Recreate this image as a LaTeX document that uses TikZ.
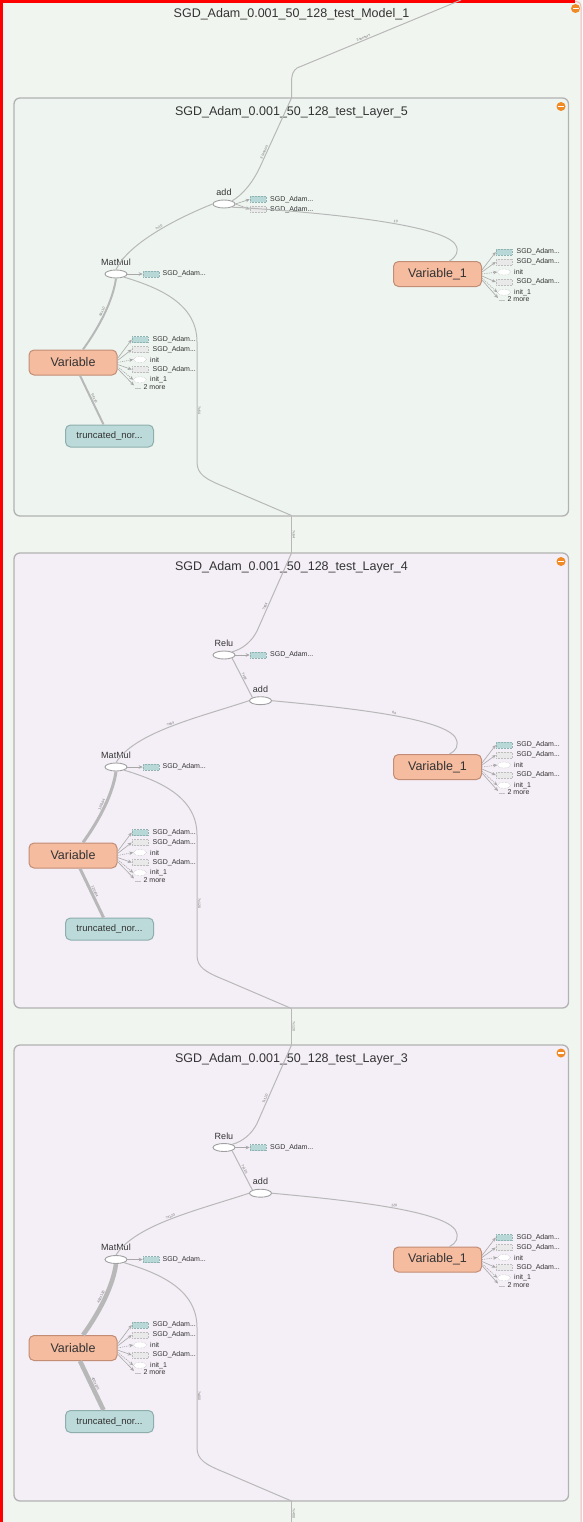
\documentclass[tikz,border=0pt]{standalone}
\usepackage{fontspec}
\setmainfont{Liberation Sans}
\usetikzlibrary{arrows.meta,calc,shapes.geometric}
\definecolor{outerbg}{HTML}{F1F5EF}
\definecolor{greenbg}{HTML}{EEF5F0}
\definecolor{pinkbg}{HTML}{F4EEF6}
\definecolor{boxline}{HTML}{B2B2B2}
\definecolor{edgec}{HTML}{B8B8B8}
\definecolor{arrowc}{HTML}{A8A8A8}
\definecolor{opline}{HTML}{A0A0A0}
\definecolor{varfill}{HTML}{F5BCA0}
\definecolor{varline}{HTML}{C28D74}
\definecolor{trfill}{HTML}{BCDADA}
\definecolor{trline}{HTML}{8EAEAE}
\definecolor{tealfill}{HTML}{B8D7D7}
\definecolor{tealline}{HTML}{8FB3B3}
\definecolor{greyfill}{HTML}{E9E9E9}
\definecolor{greyline}{HTML}{BDBDBD}
\definecolor{iconc}{HTML}{F08A24}
\definecolor{textc}{HTML}{333333}
\definecolor{labc}{HTML}{707070}
\definecolor{selred}{HTML}{FF0000}
\definecolor{selpink}{HTML}{F2B8B8}
\tikzset{
 layerbox/.style={draw=boxline, line width=1.3pt, rounded corners=6pt},
 titletext/.style={font=\fontsize{12.5}{14}\selectfont, text=textc, inner sep=0pt},
 opnode/.style={ellipse, draw=opline, fill=white, line width=0.9pt, minimum width=22pt, minimum height=8pt, inner sep=0pt},
 oplabel/.style={font=\fontsize{9}{10}\selectfont, text=textc, inner sep=0pt},
 varnode/.style={rectangle, rounded corners=5pt, draw=varline, fill=varfill, line width=1pt, minimum width=88pt, minimum height=25pt, inner sep=0pt, font=\fontsize{12.5}{14}\selectfont, text=textc},
 trnode/.style={varnode, draw=trline, fill=trfill, minimum height=22pt, font=\fontsize{9.5}{11}\selectfont},
 tealbox/.style={rectangle, fill=tealfill, draw=tealline, densely dotted, line width=0.5pt, minimum width=16pt, minimum height=6pt, inner sep=0pt},
 greybox/.style={tealbox, fill=greyfill, draw=greyline},
 initell/.style={ellipse, fill=white, draw=greyline, densely dotted, line width=0.5pt, minimum width=13pt, minimum height=6pt, inner sep=0pt},
 smalltext/.style={font=\fontsize{7}{8}\selectfont, text=textc, inner sep=0pt, anchor=west},
 edge/.style={draw=edgec, line width=1pt},
 elabel/.style={font=\fontsize{3.5}{4}\selectfont, text=labc, sloped, above=0.4pt, inner sep=0.3pt},
 sidearrow/.style={draw=arrowc, line width=0.6pt, -{Stealth[length=4pt,width=3.5pt]}},
 sidedot/.style={sidearrow, dash pattern=on 1.2pt off 1pt},
 icon/.style={circle, fill=iconc, minimum size=9pt, inner sep=0pt},
 iconbar/.style={rectangle, fill=white, minimum width=6pt, minimum height=1.8pt, inner sep=0pt},
}
\newcommand\sideitems[4]{%
 \node[tealbox] (#1a) at (#3,#4) {};
 \node[greybox] (#1b) at (#3,#4+10) {};
 \node[initell] (#1c) at (#3,#4+20) {};
 \node[greybox] (#1d) at (#3,#4+30) {};
 \node[initell] (#1e) at (#3,#4+40.3) {};
 \node[smalltext] (#1at) at (#3+12.5,#4) {SGD\_Adam...};
 \node[smalltext] (#1bt) at (#3+12.5,#4+10) {SGD\_Adam...};
 \node[smalltext] (#1ct) at (#3+10,#4+20) {init};
 \node[smalltext] (#1dt) at (#3+12.5,#4+30) {SGD\_Adam...};
 \node[smalltext] (#1et) at (#3+10,#4+40.3) {init\_1};
 \node[smalltext] (#1ft) at (#3-5,#4+47.5) {... 2 more};
 \draw[sidearrow] ($(#2.east)+(0,-4)$) -- (#1a.west);
 \draw[sidearrow] ($(#2.east)+(0,-2)$) -- (#1b.west);
 \draw[sidedot] ($(#2.east)+(0,0)$) -- (#1c.west);
 \draw[sidearrow] ($(#2.east)+(0,2)$) -- (#1d.west);
 \draw[sidedot] ($(#2.east)+(0,4)$) -- (#1e.west);
 \draw[sidearrow] ($(#2.east)+(0,6)$) -- ($(#1ft.west)+(-1,-1.5)$);
}
\newcommand\lowerpart[6]{%
 \node[opnode] (#1mm) at (116,#2) {};
 \node[oplabel] (#1mmlab) at (116,#2-12) {MatMul};
 \node[tealbox] (#1mo) at (151,#2) {};
 \node[smalltext] (#1mot) at (162.5,#2) {SGD\_Adam...};
 \draw[sidearrow] (#1mm.east) -- (#1mo.west);
 \node[varnode] (#1var1) at (437.5,#2) {Variable\_1};
 \sideitems{#1a}{#1var1}{504}{#2-22}
 \node[varnode] (#1var) at (73,#2+88.5) {Variable};
 \sideitems{#1b}{#1var}{140}{#2+65.5}
 \node[trnode] (#1tr) at (109.5,#2+162) {truncated\_nor...};
 \coordinate (#1bot) at (291.5,#2+241.5);
 \draw[edge, line width=#3] (#1mm.south) .. controls (113,#2+26) and (100,#2+52) .. ($(#1var.north)+(10,0)$) node[elabel,pos=0.5]{#4};
 \draw[edge, line width=#3] ($(#1var.south)+(7,0)$) -- ($(#1tr.north)+(-6,0)$) node[elabel,midway]{#5};
 \draw[edge] (#1mm.south east) .. controls (160,#2+14) and (197,#2+30) .. (197,#2+68) -- (197,#2+188) node[elabel,pos=0.57]{#6} .. controls (197,#2+200) and (205,#2+205) .. (225,#2+213) -- (#1bot);
}
\newcommand\reluupper[6]{%
 \node[opnode] (#1relu) at (224,#2-112) {};
 \node[oplabel] (#1relulab) at (224,#2-123.5) {Relu};
 \node[tealbox] (#1ro) at (258,#2-112) {};
 \node[smalltext] (#1rot) at (270,#2-112) {SGD\_Adam...};
 \draw[sidearrow] (#1relu.east) -- (#1ro.west);
 \node[opnode] (#1add) at (260.5,#2-66.3) {};
 \node[oplabel] (#1addlab) at (260.5,#2-78) {add};
 \draw[edge] (#1top) -- (257,#2-136) node[elabel,pos=0.7]{#3} .. controls (252,#2-126) and (243,#2-118) .. (#1relu.north east);
 \draw[edge] (#1relu.south east) -- (#1add.north west) node[elabel,midway]{#4};
 \draw[edge] (#1add.west) .. controls (200,#2-50) and (135,#2-35) .. (#1mm.north) node[elabel,pos=0.5]{#5};
 \draw[edge] (#1add.east) .. controls (340,#2-60) and (440,#2-50) .. (455,#2-30) node[elabel,pos=0.55]{#6} .. controls (460,#2-22) and (456,#2-16) .. ($(#1var1.north)+(12,0)$);
}
\begin{document}
\begin{tikzpicture}[x=1pt,y=-1pt]
\useasboundingbox (0,0) rectangle (582,1522);
\fill[outerbg] (0,0) rectangle (582,1522);
\draw[selpink, line width=1pt] (575,1.5) .. controls (579,1.5) and (581,3.5) .. (581,7) -- (581,1522);
\draw[selred, line width=3pt] (1.5,1522) -- (1.5,1.5) -- (575,1.5);
% layer boxes
\draw[layerbox, fill=greenbg] (14,98) rectangle (568.5,516);
\draw[layerbox, fill=pinkbg] (14,553) rectangle (568.5,1008);
\draw[layerbox, fill=pinkbg] (14,1045) rectangle (568.5,1501);
% titles
\node[titletext] (modeltitle) at (291.5,14.5) {SGD\_Adam\_0.001\_50\_128\_test\_Model\_1};
\node[titletext] (l5title) at (291.5,112) {SGD\_Adam\_0.001\_50\_128\_test\_Layer\_5};
\node[titletext] (l4title) at (291.5,567.5) {SGD\_Adam\_0.001\_50\_128\_test\_Layer\_4};
\node[titletext] (l3title) at (291.5,1059) {SGD\_Adam\_0.001\_50\_128\_test\_Layer\_3};
% icons
\node[icon] (icm) at (575.5,8.5) {}; \node[iconbar] (icmb) at (icm) {};
\node[icon] (ic5) at (561,106.5) {}; \node[iconbar] (ic5b) at (ic5) {};
\node[icon] (ic4) at (561,561.5) {}; \node[iconbar] (ic4b) at (ic4) {};
\node[icon] (ic3) at (561,1053) {}; \node[iconbar] (ic3b) at (ic3) {};
% coordinates
\coordinate (topin) at (461,0);
\coordinate (L5top) at (291.5,98);
\coordinate (L4top) at (291.5,553);
\coordinate (L3top) at (291.5,1045);
\coordinate (botout) at (291.5,1522);
% Layer 5
\lowerpart{L5}{274}{2pt}{64x10}{64x10}{?x64}
\node[opnode] (L5add) at (224,204) {};
\node[oplabel] (L5addlab) at (224,192.5) {add};
\node[tealbox] (L5o1) at (258,199.3) {};
\node[greybox] (L5o2) at (258,209.3) {};
\node[smalltext] (L5o1t) at (270,199.3) {SGD\_Adam...};
\node[smalltext] (L5o2t) at (270,209.3) {SGD\_Adam...};
\draw[sidearrow] (L5add.east) -- (L5o1.west);
\draw[sidearrow] (L5add.east) -- (L5o2.west);
\draw[edge] (topin) -- (297,68) node[elabel,pos=0.59]{3 tensors} .. controls (293,71) and (291.5,75) .. (291.5,82) -- (L5top) -- (260,167) node[elabel,pos=0.8]{3 tensors} .. controls (252,184) and (242,195) .. (L5add.north east);
\draw[edge] (L5add.west) .. controls (175,219) and (128,244) .. (L5mm.north) node[elabel,pos=0.45]{?x10};
\draw[edge] (L5add.south east) .. controls (320,212) and (440,224) .. (455,244) node[elabel,pos=0.6]{10} .. controls (460,251) and (456,257) .. ($(L5var1.north)+(12,0)$);
% Layer 4
\draw[edge] (L5bot) -- (L4top) node[elabel,midway]{?x64};
\lowerpart{L4}{767}{3pt}{120x64}{120x64}{?x120}
\reluupper{L4}{767}{?x64}{?x64}{?x64}{64}
% Layer 3
\draw[edge] (L4bot) -- (L3top) node[elabel,midway]{?x120};
\lowerpart{L3}{1259.5}{4.5pt}{400x120}{400x120}{?x400}
\reluupper{L3}{1259.5}{?x120}{?x120}{?x120}{120}
\draw[edge] (L3bot) -- (botout) node[elabel,pos=0.6]{?x400};
\end{tikzpicture}
\end{document}
